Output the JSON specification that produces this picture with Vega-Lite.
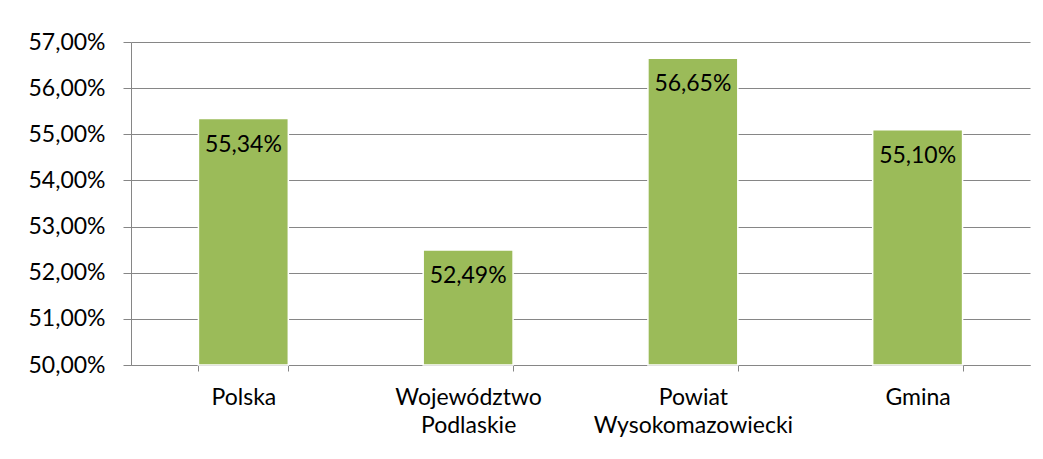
{
  "$schema": "https://vega.github.io/schema/vega-lite/v6.json",
  "width": 899,
  "height": 323,
  "autosize": {"type": "none"},
  "padding": {"left": 131, "top": 42, "right": 13, "bottom": 94},
  "background": "white",
  "config": {
    "view": {"stroke": null},
    "font": "Lato",
    "locale": {"number": {"decimal": ",", "thousands": " ", "grouping": [3], "currency": ["", " zł"]}},
    "axis": {"labelFont": "Lato", "labelFontSize": 23, "labelColor": "#000000", "labelLimit": 400}
  },
  "data": {
    "values": [
      {"region": "Polska", "value": 0.5534},
      {"region": "Województwo\nPodlaskie", "value": 0.5249},
      {"region": "Powiat\nWysokomazowiecki", "value": 0.5665},
      {"region": "Gmina", "value": 0.5510}
    ]
  },
  "encoding": {
    "x": {
      "field": "region",
      "type": "nominal",
      "sort": null,
      "scale": {"paddingInner": 0.6, "paddingOuter": 0.3},
      "axis": {
        "title": null,
        "labelAngle": 0,
        "labelExpr": "datum.value == null ? '' : split(datum.value, '\\n')",
        "labelLineHeight": 28,
        "labelBaseline": "top",
        "labelPadding": 15,
        "tickBand": "extent",
        "tickSize": 6,
        "tickColor": "#868686",
        "domainColor": "#868686",
        "grid": false
      }
    },
    "y": {
      "field": "value",
      "type": "quantitative",
      "scale": {"domain": [0.5, 0.57], "zero": false, "nice": false},
      "axis": {
        "title": null,
        "values": [0.5, 0.51, 0.52, 0.53, 0.54, 0.55, 0.56, 0.57],
        "format": ".2%",
        "tickSize": 8,
        "labelPadding": 18,
        "tickColor": "#868686",
        "domainColor": "#868686",
        "gridColor": "#868686",
        "gridWidth": 1
      }
    }
  },
  "layer": [
    {
      "mark": {"type": "bar", "color": "#9BBB59", "stroke": "#FFFFFF", "strokeWidth": 1.5},
      "encoding": {"y2": {"datum": 0.5}}
    },
    {
      "mark": {"type": "text", "baseline": "top", "dy": 15, "fontSize": 23, "color": "#000000", "font": "Lato"},
      "encoding": {
        "text": {"field": "value", "type": "quantitative", "format": ".2%"}
      }
    }
  ]
}
